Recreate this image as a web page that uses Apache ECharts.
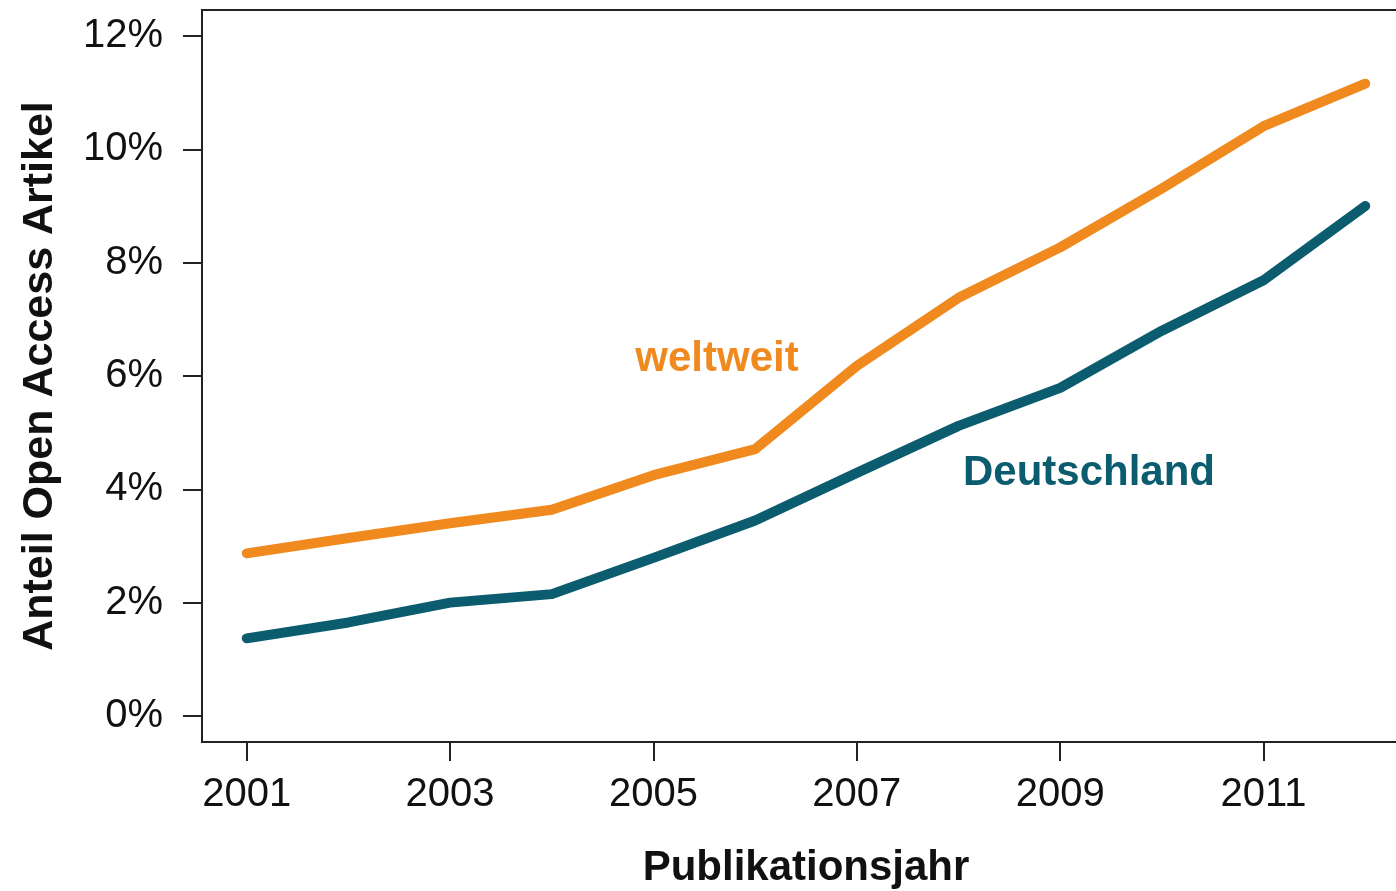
<!DOCTYPE html>
<html>
<head>
<meta charset="utf-8">
<script src="https://cdn.jsdelivr.net/npm/echarts@6/dist/echarts.min.js"></script>
<style>
  html, body { margin: 0; padding: 0; background: #fff; }
  #chart { width: 1396px; height: 891px; }
</style>
</head>
<body>
<div id="chart"></div>
<script>
// 데이터
const years = [2001, 2002, 2003, 2004, 2005, 2006, 2007, 2008, 2009, 2010, 2011, 2012];
const weltweit = [2.87, 3.14, 3.40, 3.64, 4.25, 4.71, 6.18, 7.38, 8.27, 9.31, 10.41, 11.16];
const deutschland = [1.37, 1.65, 2.00, 2.15, 2.79, 3.45, 4.29, 5.12, 5.79, 6.80, 7.69, 9.00];
const xTicks = [2001, 2003, 2005, 2007, 2009, 2011];
const yTicks = [0, 2, 4, 6, 8, 10, 12];

const ORANGE = '#F08A1E';
const TEAL = '#0B5C6E';
const FONT = 'Liberation Sans, Arial, sans-serif';

const toPairs = (vals) => years.map((y, i) => [y, vals[i]]);

const chart = echarts.init(document.getElementById('chart'));

const lineSeries = (name, vals, color) => ({
    name: name,
    type: 'line',
    data: toPairs(vals),
    showSymbol: false,
    symbol: 'none',
    silent: true,
    clip: false,
    lineStyle: { color: color, width: 10, cap: 'round', join: 'round' },
    itemStyle: { color: color },
});

chart.setOption({
    animation: false,
    grid: {
        left: 202,
        top: 10,
        width: 1208,
        height: 732,
        outerBoundsMode: 'none',
        containLabel: false,
        show: true,
        borderColor: '#222',
        borderWidth: 2,
        backgroundColor: 'transparent',
    },
    xAxis: {
        type: 'value',
        min: 2000.56,
        max: 2012.44,
        name: 'Publikationsjahr',
        nameLocation: 'middle',
        nameGap: 105,
        nameTextStyle: { fontFamily: FONT, fontSize: 42, fontWeight: 'bold', color: '#111' },
        axisLine: { show: false, onZero: false },
        splitLine: { show: false },
        axisTick: {
            show: true,
            customValues: xTicks,
            length: 19,
            lineStyle: { color: '#222', width: 2 },
        },
        axisLabel: {
            customValues: xTicks,
            margin: 33,
            fontFamily: FONT,
            fontSize: 40,
            color: '#111',
            formatter: (v) => String(v),
        },
    },
    yAxis: {
        type: 'value',
        min: -0.46,
        max: 12.46,
        name: 'Anteil Open Access Artikel',
        nameLocation: 'middle',
        nameRotate: 90,
        nameGap: 140,
        nameTextStyle: { fontFamily: FONT, fontSize: 43, fontWeight: 'bold', color: '#111' },
        axisLine: { show: false, onZero: false },
        splitLine: { show: false },
        axisTick: {
            show: true,
            customValues: yTicks,
            length: 19,
            lineStyle: { color: '#222', width: 2 },
        },
        axisLabel: {
            customValues: yTicks,
            margin: 39,
            padding: [6, 0, 0, 0],
            fontFamily: FONT,
            fontSize: 40,
            color: '#111',
            formatter: (v) => v + '%',
        },
    },
    series: [
        lineSeries('weltweit', weltweit, ORANGE),
        lineSeries('Deutschland', deutschland, TEAL),
    ],
    graphic: [
        {
            type: 'text',
            style: {
                text: 'weltweit',
                x: 717, y: 359,
                align: 'center', verticalAlign: 'middle',
                font: 'bold 42px ' + FONT,
                fill: ORANGE,
            },
        },
        {
            type: 'text',
            style: {
                text: 'Deutschland',
                x: 1089, y: 473,
                align: 'center', verticalAlign: 'middle',
                font: 'bold 42px ' + FONT,
                fill: TEAL,
            },
        },
    ],
});

window.addEventListener('resize', () => chart.resize());
</script>
</body>
</html>
